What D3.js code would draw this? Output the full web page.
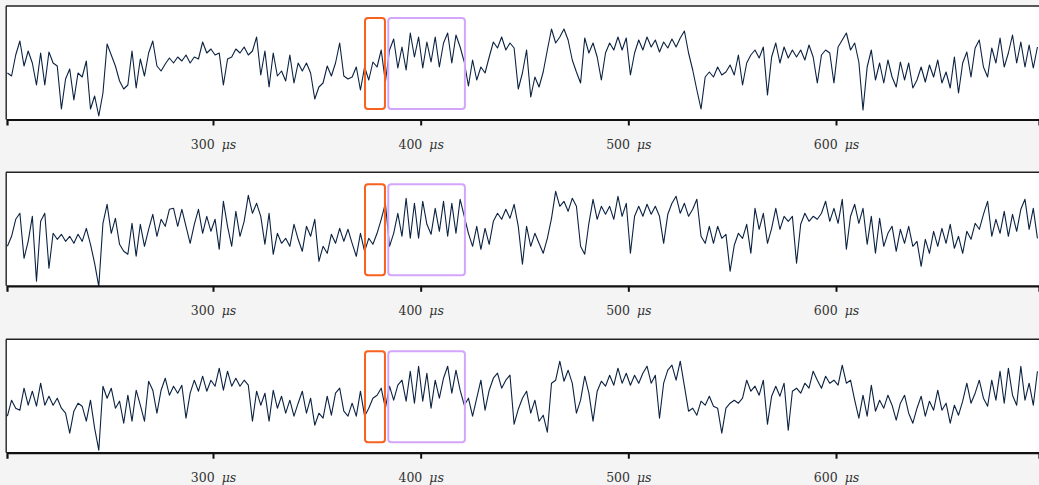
<!DOCTYPE html>
<html>
<head>
<meta charset="utf-8">
<script src="https://cdn.jsdelivr.net/npm/d3@7"></script>
<style>
  body { margin: 0; background: #f4f4f4; }
  svg { display: block; }
</style>
</head>
<body>
<svg id="chart" width="1039" height="485"></svg>
<script>
// sampled traces, one value every 2 us starting at 201 us (arbitrary amplitude units)
var traceA = [
    48,45,66,80,55,70,58,36,68,36, 69,58,55,12,42,52,21,48,44,60, 12,25,5,28,77,66,55,40,32,36,
    70,33,62,45,68,80,55,50,57,63, 58,64,60,66,58,64,62,79,68,72, 66,68,36,62,64,72,68,74,66,70,
    84,46,70,34,68,45,50,40,66,38, 58,50,58,48,22,34,38,55,45,58, 78,45,42,
    44,54,31,54,41,59,54,71,39,71, 82,53,74,51,88,64,84,53,79,59, 84,54,78,88,58,86,74,59,35,61,
    41,54,48,64,79,73,84,71,78,73, 32,48,71,24,44,34,49,71,92,78, 84,92,81,61,49,38,83,68,78,64,
    41,68,78,71,84,71,83,46,68,81, 71,84,74,81,69,79,73,82,74,83, 90,68,51,
    31,12,44,49,44,54,46,49,56,46, 66,36,58,66,71,63,74,26,64,78, 58,74,63,71,64,71,61,76,64,38,
    66,71,68,38,74,81,88,71,78,59, 11,54,71,41,58,38,61,44,34,59, 41,58,33,41,54,39,56,44,61,38,
    49,33,64,28,58,69,44,73,81,54, 44,73,58,83,54,68,86,58,79,54, 76,53,74
];

var traceB = [
    41,51,68,74,29,46,71,6,66,74, 19,54,48,53,46,51,44,53,46,59, 43,24,1,64,83,54,69,43,36,33,
    64,31,63,41,58,73,51,68,61,78, 79,61,78,61,44,63,78,54,71,56, 68,38,86,61,41,76,51,66,92,74,
    84,71,43,74,33,54,44,49,41,63, 48,36,61,51,68,26,41,34,53,44, 59,46,58,
    44,31,54,36,49,43,54,68,84,41, 54,74,51,89,49,84,49,86,63,53, 79,56,86,51,84,54,88,71,54,41,
    61,38,59,43,66,74,68,78,69,83, 61,23,61,41,54,44,34,49,69,96, 81,86,76,89,81,41,33,64,88,68,
    81,73,81,68,91,71,84,34,71,81, 71,83,73,81,71,44,73,84,91,74, 84,71,78,
    88,51,44,61,44,61,49,53,16,42, 54,49,63,34,79,58,74,44,59,79, 58,71,66,71,24,63,74,66,71,68,
    74,86,66,79,64,88,38,71,83,64, 79,43,71,34,69,41,54,61,36,58, 44,61,41,46,21,48,34,56,41,59,
    44,63,39,51,34,56,48,64,58,73, 86,51,68,54,76,51,73,56,78,88, 58,79,49
];

var traceC = [
    38,54,46,44,66,49,63,48,71,49, 58,49,56,46,41,21,43,51,48,33, 54,26,4,68,56,66,46,53,31,59,
    33,64,49,33,73,64,41,64,76,59, 68,61,69,36,61,74,63,78,63,74, 68,86,64,83,68,76,68,74,69,33,
    63,49,61,33,64,46,58,41,54,38, 51,63,41,56,29,41,36,58,39,61, 66,43,38,
    51,38,63,38,46,56,59,66,46,68, 54,69,74,53,83,51,88,53,81,46, 74,56,76,88,61,84,64,49,56,38,
    56,74,44,64,76,81,66,74,79,30, 45,56,63,41,54,33,39,22,71,74, 93,73,84,71,41,54,78,61,33,63,
    73,68,79,69,86,71,81,69,79,71, 81,88,71,79,36,71,84,89,74,93, 68,43,46,
    39,53,49,58,48,46,21,46,51,54, 51,56,74,63,68,59,74,30,58,68, 58,71,24,63,66,61,71,66,83,74,
    66,78,71,74,69,89,71,74,54,36, 59,38,69,43,54,46,59,49,34,51, 59,41,31,46,58,38,53,44,64,44,
    51,31,49,39,53,71,51,61,74,56, 48,74,54,83,51,86,59,49,88,54, 71,49,83
];

var sampleStart = 201, sampleStep = 2;
var tickValues = [300, 400, 500, 600];

// highlighted windows (us) and their vertical extent (amplitude units)
var windowStart = [373.2, 384.4];
var windowEnd = [382.8, 421.3];
var windowColors = ['#f7621e', '#d4a6fb'];
var windowLow = 12, windowHigh = 103;

var traces = [traceA, traceB, traceC];

var panelTops = [6, 172.3, 339.2],
    panelHeight = 113.5,
    left = 7,
    right = 1039;

var svg = d3.select('#chart');

var xScale = d3.scaleLinear()
    .domain([200.8, 697.75])
    .range([left, right]);

var yScale = d3.scaleLinear()
    .domain([0, 115])
    .range([115, 0]);

var line = d3.line()
    .x(function(d, i) { return xScale(sampleStart + i * sampleStep); })
    .y(function(d) { return yScale(d); });

var panels = svg.selectAll('.panel')
    .data(traces)
    .enter()
    .append('g')
    .attr('class', 'panel')
    .attr('transform', function(d, i) { return 'translate(0,' + panelTops[i] + ')'; });

// white plot area
panels.append('rect')
    .attr('x', left)
    .attr('y', 0)
    .attr('width', right - left)
    .attr('height', panelHeight)
    .attr('fill', '#ffffff');

// trace
panels.append('path')
    .attr('d', function(d) { return line(d); })
    .attr('fill', 'none')
    .attr('stroke', '#0b2242')
    .attr('stroke-width', 1.1)
    .attr('stroke-linejoin', 'round');

// highlight windows
panels.each(function() {
    var g = d3.select(this);
    g.selectAll('.window')
        .data(windowStart)
        .enter()
        .append('rect')
        .attr('class', 'window')
        .attr('x', function(d) { return xScale(d); })
        .attr('y', yScale(windowHigh))
        .attr('width', function(d, i) { return xScale(windowEnd[i]) - xScale(d); })
        .attr('height', yScale(windowLow) - yScale(windowHigh))
        .attr('rx', 3)
        .attr('fill', 'none')
        .attr('stroke', function(d, i) { return windowColors[i]; })
        .attr('stroke-width', 2);
});

// top and left spines
panels.append('line')
    .attr('x1', left - 1)
    .attr('x2', right)
    .attr('y1', 0)
    .attr('y2', 0)
    .attr('stroke', '#222')
    .attr('stroke-width', 1.5);

panels.append('line')
    .attr('x1', left - 0.8)
    .attr('x2', left - 0.8)
    .attr('y1', 0)
    .attr('y2', panelHeight)
    .attr('stroke', '#222')
    .attr('stroke-width', 1.4);

// bottom axis
var axis = d3.axisBottom(xScale)
    .tickValues(tickValues)
    .tickSize(6)
    .tickSizeOuter(6)
    .tickFormat('');

var axisGroups = panels.append('g')
    .attr('class', 'x-axis')
    .attr('transform', 'translate(0,' + panelHeight + ')')
    .call(axis);

axisGroups.select('.domain')
    .attr('stroke', '#111')
    .attr('stroke-width', 2.2);

axisGroups.selectAll('.tick line')
    .attr('stroke', '#111')
    .attr('stroke-width', 2);

var labels = axisGroups.selectAll('.tick')
    .append('text')
    .attr('y', 29)
    .attr('fill', '#333')
    .attr('text-anchor', 'middle')
    .style('font-family', '"DejaVu Serif", serif')
    .style('font-size', '12.5px');

labels.append('tspan')
    .text(function(d) { return d; });

labels.append('tspan')
    .attr('dx', 7)
    .style('font-style', 'italic')
    .text('μs');
</script>
</body>
</html>
